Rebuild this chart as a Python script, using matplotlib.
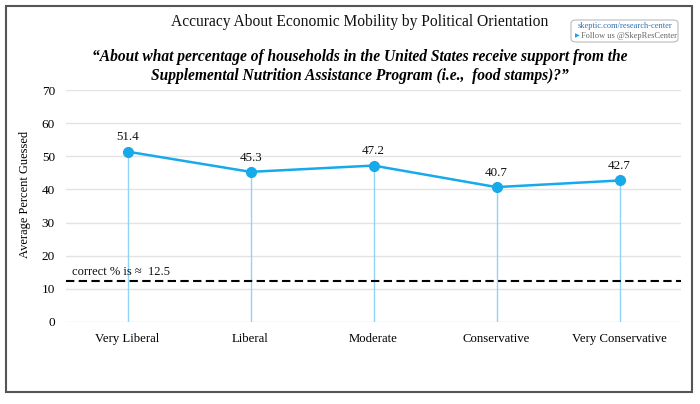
import matplotlib
matplotlib.use("Agg")
import matplotlib.pyplot as plt
from matplotlib.patches import Rectangle, FancyBboxPatch

categories = ["Very Liberal", "Liberal", "Moderate", "Conservative", "Very Conservative"]
values = [51.4, 45.3, 47.2, 40.7, 42.7]
correct_value = 12.5
yticks = [0, 10, 20, 30, 40, 50, 60, 70]

plt.rcParams['font.family'] = ['Liberation Serif', 'DejaVu Serif']

W, H = 700, 404
fig = plt.figure(figsize=(7.0, 4.04), dpi=100)

# axes placement in pixels
x0, x1 = 66, 681
y0, y1 = 322, 90
ax = fig.add_axes([x0 / W, 1 - y0 / H, (x1 - x0) / W, (y0 - y1) / H])

xs = list(range(len(categories)))
line_c = '#17aaeb'
drop_c = '#8fd4f5'

for yv in yticks:
    ax.axhline(yv, color='#e3e3e3', lw=1.0, zorder=0)

ax.vlines(xs, 0, values, color=drop_c, lw=1.0, zorder=1)
ax.axhline(correct_value, color='black', lw=1.5, ls=(0, (4, 2.1)), zorder=2)
ax.plot(xs, values, color=line_c, lw=1.8, marker='o', ms=7, zorder=3)
for x, v in zip(xs, values):
    ax.annotate(f"{v}", (x, v), xytext=(0, 6), textcoords='offset points',
                ha='center', va='bottom', fontsize=9.4, color='#111111')
ax.text(-0.45, correct_value + 0.9, "correct % is \u2248  12.5", fontsize=9,
        ha='left', va='bottom', color='#111111')

ax.set_xlim(-0.5, 4.5)
ax.set_ylim(0, 70)
ax.set_yticks(yticks)
ax.set_xticks(xs)
ax.set_xticklabels(categories, fontsize=9.2)
ax.tick_params(axis='y', labelsize=9.5, length=0, pad=8)
ax.tick_params(axis='x', length=0, pad=8)
for s in ax.spines.values():
    s.set_visible(False)
ax.set_ylabel("Average Percent Guessed", fontsize=9)
ax.yaxis.set_label_coords((31 - x0) / (x1 - x0), (y0 - 194) / (y0 - y1))

# outer frame
fig.patches.append(Rectangle((6 / W, 1 - 392 / H), 686 / W, 386 / H,
                             transform=fig.transFigure, fill=False,
                             edgecolor='#555555', lw=1.5))

fig.text(360 / W, 1 - 22 / H, "Accuracy About Economic Mobility by Political Orientation",
         ha='center', va='center', fontsize=11.2, color='#111111')
fig.text(360 / W, 1 - 57 / H,
         "\u201cAbout what percentage of households in the United States receive support from the",
         ha='center', va='center', fontsize=11.2, fontweight='bold', style='italic')
fig.text(360 / W, 1 - 76 / H,
         "Supplemental Nutrition Assistance Program (i.e.,  food stamps)?\u201d",
         ha='center', va='center', fontsize=11.2, fontweight='bold', style='italic')

# badge
fig.patches.append(FancyBboxPatch((571 / W, 1 - 42 / H), 107 / W, 22 / H,
                                  boxstyle='round,pad=0,rounding_size=0.008',
                                  transform=fig.transFigure, fill=False,
                                  edgecolor='#bbbbbb', lw=0.8))
fig.text(624.5 / W, 1 - 26 / H, "skeptic.com/research-center", ha='center', va='center',
         fontsize=6.0, color='#2e6fb5')
fig.text(629 / W, 1 - 36 / H, "Follow us @SkepResCenter", ha='center', va='center',
         fontsize=6.0, color='#666666')
fig.text(577.5 / W, 1 - 36 / H, "\u25b6", ha='center', va='center', fontsize=4.5,
         color='#1da1f2', family='DejaVu Sans')

fig.savefig("out.png", dpi=100)
